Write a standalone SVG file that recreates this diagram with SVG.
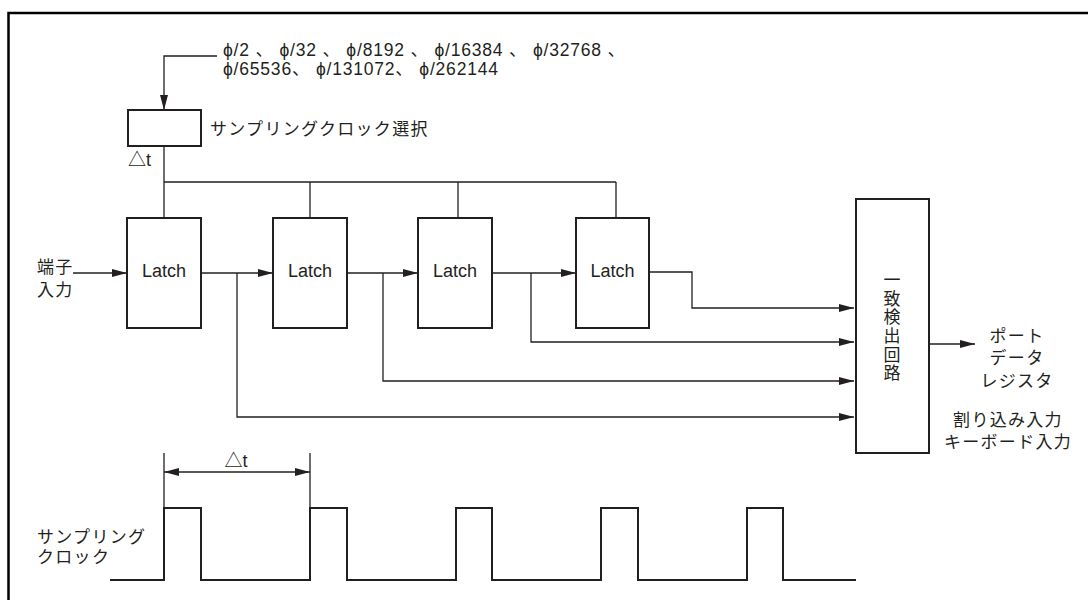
<svg xmlns="http://www.w3.org/2000/svg" width="1088" height="600" viewBox="0 0 1088 600">
<style>
  text { font-family: "Liberation Sans", "Noto Sans CJK JP", sans-serif; fill: #231f20; }
  .jp { font-size: 17px; letter-spacing: 1.3px; }
  .lat { font-size: 18px; text-anchor: middle; }
  .phi { font-size: 17.5px; letter-spacing: 0.8px; }
  .dt { font-size: 18px; }
  .box { fill: #fff; stroke: #231f20; stroke-width: 2; }
  .ln { fill: none; stroke: #231f20; stroke-width: 1.3; }
  .ar { marker-end: url(#ah); }
  .wave { fill: none; stroke: #231f20; stroke-width: 2; }
</style>
<defs>
  <marker id="ah" markerUnits="userSpaceOnUse" markerWidth="16" markerHeight="10" refX="15" refY="4" orient="auto">
    <path d="M0,0 L15,4 L0,8 z" fill="#231f20"/>
  </marker>
  <marker id="ahs" markerUnits="userSpaceOnUse" markerWidth="16" markerHeight="10" refX="0" refY="4" orient="auto">
    <path d="M15,0 L0,4 L15,8 z" fill="#231f20"/>
  </marker>
</defs>
<rect width="1088" height="600" fill="#fff"/>
<path d="M8.5,600 V13 H1088" fill="none" stroke="#000" stroke-width="2.5"/>

<g id="connectors">
  <path class="ln ar" d="M217,56 H164 V110"/>
  <path class="ln" d="M164,146 V218 M164,182 H616 M310,182 V218 M458,182 V218 M616,182 V218"/>
  <path class="ln ar" d="M73,273 H127"/>
  <path class="ln ar" d="M201,273 H273"/>
  <path class="ln ar" d="M237,273 V417 H854"/>
  <path class="ln ar" d="M347,273 H418"/>
  <path class="ln ar" d="M383,273 V381 H854"/>
  <path class="ln ar" d="M492,273 H576"/>
  <path class="ln ar" d="M531,273 V342 H854"/>
  <path class="ln ar" d="M649,272 H692 V308 H854"/>
  <path class="ln ar" d="M929,344 H975"/>
</g>

<g id="clock-source">
  <text class="phi" x="223" y="56">ϕ/2 、 ϕ/32 、 ϕ/8192 、 ϕ/16384 、 ϕ/32768 、</text>
  <text class="phi" x="223" y="75">ϕ/65536、 ϕ/131072、 ϕ/262144</text>
</g>

<g id="clock-select">
  <rect class="box" x="128" y="110" width="73" height="36"/>
  <text class="jp" x="210" y="135">サンプリングクロック選択</text>
  <text class="dt" x="128" y="166">△t</text>
</g>

<g id="input-label">
  <text class="jp" x="37" y="273">端子</text>
  <text class="jp" x="37" y="296">入力</text>
</g>

<g id="latch1">
  <rect class="box" x="127" y="218" width="74" height="110"/>
  <text class="lat" x="164" y="277">Latch</text>
</g>
<g id="latch2">
  <rect class="box" x="273" y="218" width="74" height="110"/>
  <text class="lat" x="310" y="277">Latch</text>
</g>
<g id="latch3">
  <rect class="box" x="418" y="218" width="74" height="110"/>
  <text class="lat" x="455" y="277">Latch</text>
</g>
<g id="latch4">
  <rect class="box" x="576" y="218" width="73" height="110"/>
  <text class="lat" x="612.5" y="277">Latch</text>
</g>

<g id="match-detector">
  <rect class="box" x="856" y="199" width="73" height="254"/>
  <g font-size="17" text-anchor="middle">
    <text x="892" y="286">一</text>
    <text x="892" y="305">致</text>
    <text x="892" y="323">検</text>
    <text x="892" y="342">出</text>
    <text x="892" y="361">回</text>
    <text x="892" y="379">路</text>
  </g>
</g>

<g id="outputs" text-anchor="middle">
  <text class="jp" x="1017" y="342">ポート</text>
  <text class="jp" x="1017" y="364">データ</text>
  <text class="jp" x="1017" y="387">レジスタ</text>
  <text class="jp" x="1008" y="426">割り込み入力</text>
  <text class="jp" x="1008" y="448">キーボード入力</text>
</g>

<g id="timing">
  <text class="jp" x="37" y="543">サンプリング</text>
  <text class="jp" x="37" y="563">クロック</text>
  <path class="ln" d="M164,453 V508 M310,453 V508"/>
  <path class="ln" d="M164,472 H310" marker-start="url(#ahs)" marker-end="url(#ah)"/>
  <text class="dt" x="236" y="467" text-anchor="middle">△t</text>
  <polyline class="wave" points="110,580 164,580 164,508 201,508 201,580 310,580 310,508 347,508 347,580 456,580 456,508 492,508 492,580 601,580 601,508 638,508 638,580 747,580 747,508 783,508 783,580 856,580"/>
</g>
</svg>
